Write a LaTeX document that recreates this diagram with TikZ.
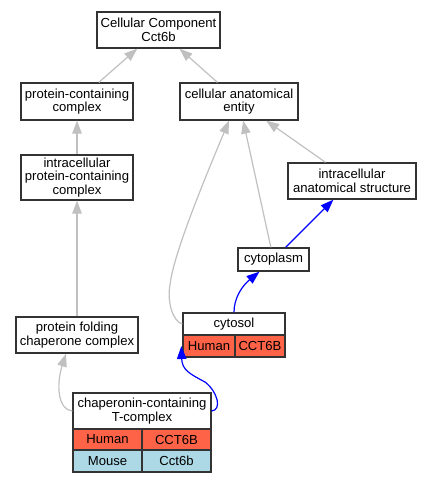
\documentclass[tikz,border=0pt]{standalone}
\usepackage{fontspec}
\setmainfont{Liberation Sans}
\usepackage{xcolor}
\usetikzlibrary{arrows.meta}
\definecolor{human}{HTML}{FF6347}
\definecolor{mouse}{HTML}{ADD8E6}
\definecolor{isagray}{HTML}{C0C0C0}

\begin{document}
\begin{tikzpicture}[x=1pt,y=-1pt]
\tikzstyle{every node}+=[inner sep=0pt]
\tikzstyle{term}=[draw=black!80,line width=1.3pt,fill=white,align=center,font=\fontsize{13.1}{13.6}\selectfont]
\tikzstyle{cell}=[term,minimum height=22pt]
\tikzstyle{isa}=[draw=isagray,line width=1.2pt,-{Triangle[length=13pt,width=9.5pt]}]
\tikzstyle{partof}=[draw=blue,line width=1.2pt,-{Triangle[length=13pt,width=9.5pt]}]
\useasboundingbox (0,0) rectangle (432,483);
\node [term,minimum width=123pt,minimum height=36pt] (cc) at (158.5,30) {Cellular Component\\Cct6b};
\node [term,minimum width=112pt,minimum height=37pt] (pcc) at (77,101.5) {protein-containing\\complex};
\node [term,minimum width=118pt,minimum height=37pt] (cae) at (239,101.5) {cellular anatomical\\entity};
\node [term,minimum width=112pt,minimum height=45pt] (ipcc) at (77,177.5) {intracellular\\protein-containing\\complex};
\node [term,minimum width=128pt,minimum height=36pt] (ias) at (352,181) {intracellular\\anatomical structure};
\node [term,minimum width=71pt,minimum height=23pt] (cytoplasm) at (273.5,259.5) {cytoplasm};
\node [term,minimum width=122pt,minimum height=36pt] (pfcc) at (77,335) {protein folding\\chaperone complex};
\node [term,minimum width=102pt,minimum height=22pt] (cytosol) at (234,324) {cytosol};
\node [cell,fill=human,minimum width=52pt] (cytosolhs) at (209,346) {Human};
\node [cell,fill=human,minimum width=50pt] (cytosolhsg) at (260,346) {CCT6B};
\node [term,minimum width=138pt,minimum height=36pt] (cct) at (142,411) {chaperonin-containing\\T-complex};
\node [cell,fill=human,minimum width=69pt,minimum height=21pt] (cctHs) at (107.5,439.5) {Human};
\node [cell,fill=human,minimum width=69pt,minimum height=21pt] (cctHsg) at (176.5,439.5) {CCT6B};
\node [cell,fill=mouse,minimum width=69pt] (cctMm) at (107.5,461) {Mouse};
\node [cell,fill=mouse,minimum width=69pt] (cctMmg) at (176.5,461) {Cct6b};
\draw [isa] (pcc) -- (cc);
\draw [isa] (cae) -- (cc);
\draw [isa] (ipcc) -- (pcc);
\draw [isa] (pfcc) -- (ipcc);
\draw [isa] (ias) -- (cae);
\draw [isa] (cytoplasm) -- (cae);
\draw [partof] (cytoplasm) -- (ias);
\draw [isa] (cytosol.west) .. controls (172,321) and (167,300) .. (170,285) .. controls (173,255) and (205,178) .. ([xshift=-10pt]cae.south);
\draw [partof] (cytosol.north) .. controls (234,298) and (242,286) .. ([xshift=-14pt]cytoplasm.south);
\draw [isa] (cct.west) .. controls (58,410) and (56,385) .. ([xshift=-11pt]pfcc.south);
\draw [partof] (cct.east) .. controls (222,410) and (218,392) .. (205,382) .. controls (190,374) and (182,370) .. ([xshift=-1pt]cytosolhs.west);
\end{tikzpicture}
\end{document}
